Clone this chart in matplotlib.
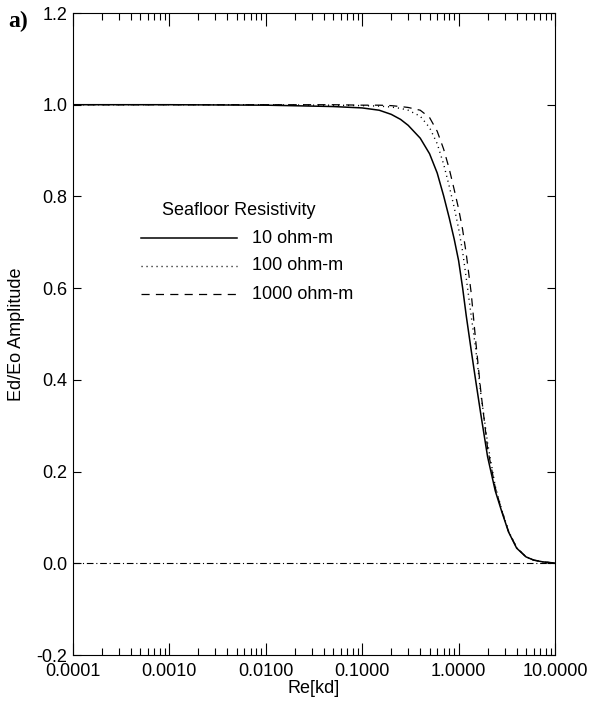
import numpy as np
import matplotlib
matplotlib.use("Agg")
import matplotlib.pyplot as plt
from matplotlib.ticker import FixedLocator, LogLocator, NullFormatter

plt.rcParams['font.family'] = ['Liberation Sans', 'DejaVu Sans']
plt.rcParams['axes.unicode_minus'] = False

# Data
re_kd = [1e-4, 1e-3, 0.01, 0.03, 0.05, 0.1, 0.15, 0.2, 0.25, 0.3, 0.4, 0.5, 0.6, 0.7,
         0.8, 0.9, 1.0, 1.1, 1.2, 1.35, 1.5, 1.7, 2.0, 2.4, 2.8, 3.3, 4.0, 5.0,
         6.0, 7.5, 10.0]
amp_10 = [1.0, 1.0, 0.999, 0.997, 0.996, 0.993, 0.988, 0.979, 0.968, 0.955, 0.927,
          0.893, 0.851, 0.801, 0.753, 0.707, 0.660, 0.601, 0.540, 0.465, 0.400,
          0.325, 0.232, 0.158, 0.113, 0.068, 0.033, 0.014, 0.007, 0.003, 0.0005]
amp_100 = [1.0, 1.0, 1.0, 0.999, 0.999, 0.998, 0.997, 0.995, 0.992, 0.988, 0.975,
           0.950, 0.915, 0.870, 0.822, 0.776, 0.730, 0.680, 0.622, 0.540, 0.470,
           0.370, 0.262, 0.168, 0.117, 0.070, 0.034, 0.014, 0.007, 0.003, 0.0005]
amp_1000 = [1.0, 1.0, 1.0, 1.0, 1.0, 0.999, 0.999, 0.998, 0.996, 0.994, 0.988,
            0.972, 0.942, 0.903, 0.860, 0.815, 0.773, 0.728, 0.675, 0.590, 0.488,
            0.375, 0.250, 0.165, 0.115, 0.069, 0.034, 0.014, 0.007, 0.003, 0.0005]
legend_title = "Seafloor Resistivity"
legend_labels = ["10 ohm-m", "100 ohm-m", "1000 ohm-m"]
xticks = [1e-4, 1e-3, 1e-2, 1e-1, 1.0, 10.0]
xtick_labels = ["0.0001", "0.0010", "0.0100", "0.1000", "1.0000", "10.0000"]
yticks = [-0.2, 0.0, 0.2, 0.4, 0.6, 0.8, 1.0, 1.2]
ytick_labels = ["-0.2", "0.0", "0.2", "0.4", "0.6", "0.8", "1.0", "1.2"]

fig = plt.figure(figsize=(5.9, 7.02), dpi=100)
ax = fig.add_axes([73/590, 1 - 655/702, (555-73)/590, (655-13)/702])

styles = [
    dict(linestyle='-', linewidth=1.1, color='black'),
    dict(linestyle=(0, (0.8, 2.8)), linewidth=1.0, color='black'),
    dict(linestyle=(0, (6.5, 5)), linewidth=0.9, color='black'),
]
for ys, st in zip([amp_10, amp_100, amp_1000], styles):
    ax.plot(re_kd, ys, **st)

ax.axhline(0.0, color='black', linewidth=0.8, linestyle=(0, (6, 2.5, 1, 2.5)))

ax.set_xscale('log')
ax.set_xlim(1e-4, 10)
ax.set_ylim(-0.2, 1.2)

ax.xaxis.set_major_locator(FixedLocator(xticks))
ax.set_xticklabels(xtick_labels)
ax.xaxis.set_minor_locator(LogLocator(base=10, subs=np.arange(2, 10)))
ax.xaxis.set_minor_formatter(NullFormatter())
ax.set_yticks(yticks)
ax.set_yticklabels(ytick_labels)

ax.tick_params(axis='x', which='major', direction='in', length=9, width=0.8,
               top=True, bottom=True, labelsize=13, pad=6)
ax.tick_params(axis='x', which='minor', direction='in', length=5, width=0.8,
               top=True, bottom=True)
ax.tick_params(axis='y', which='major', direction='in', length=6, width=0.8,
               left=True, right=True, labelsize=13, pad=4)
for s in ax.spines.values():
    s.set_linewidth(0.8)

ax.set_xlabel("Re[kd]", fontsize=13, labelpad=0)
ax.set_ylabel("Ed/Eo Amplitude", fontsize=13, labelpad=8)

# Legend drawn in axes coordinates
ax.text(0.185, 0.693, legend_title, transform=ax.transAxes, fontsize=13,
        ha='left', va='center')
ly = [0.649, 0.606, 0.562]
for y, st, lab in zip(ly, styles, legend_labels):
    ax.plot([0.141, 0.340], [y, y], transform=ax.transAxes, **st)
    ax.text(0.371, y, lab, transform=ax.transAxes, fontsize=13,
            ha='left', va='center')

fig.text(8/590, 1 - 21/702, "a)", fontsize=17, fontweight='bold',
         family='Liberation Serif', ha='left', va='center')

fig.savefig("out.png", dpi=100)
